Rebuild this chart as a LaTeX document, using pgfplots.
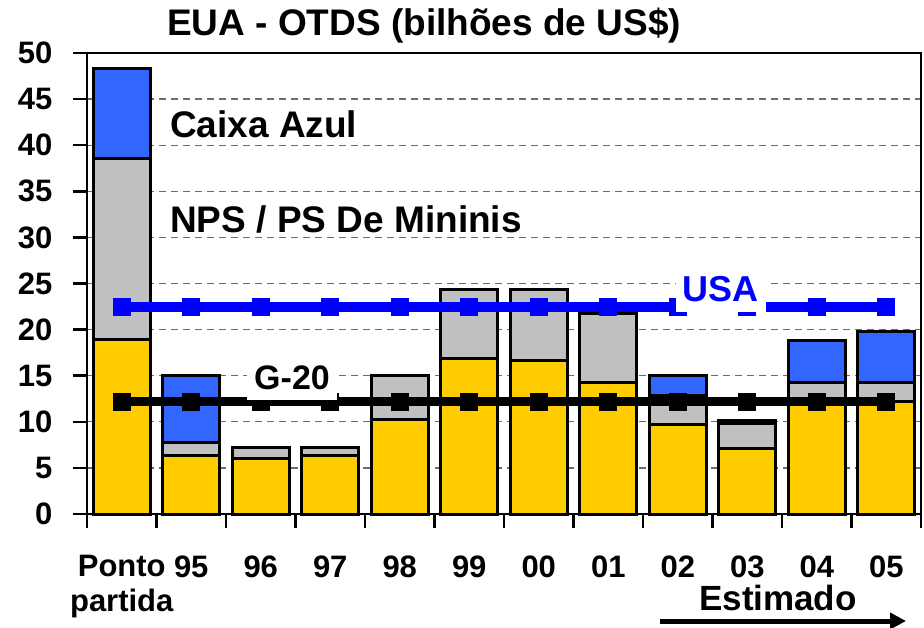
\documentclass[border=0pt]{standalone}
\usepackage{pgfplots}
\pgfplotsset{compat=1.18}
\usepackage{fontspec}
\setmainfont{Liberation Sans}
\usetikzlibrary{arrows.meta}
\definecolor{cYel}{HTML}{FFCC00}
\definecolor{cGray}{HTML}{C0C0C0}
\definecolor{cBlue}{HTML}{3366FF}
\definecolor{cUSA}{HTML}{0000FF}
\newcommand{\fs}[1]{\bfseries\fontsize{#1}{#1}\selectfont}
\newcommand{\fsx}{\bfseries\fontsize{31}{35}\selectfont}
\pgfplotsset{same box/.style={at={(87pt,113pt)}, anchor=south west,
  scale only axis, width=834pt, height=461pt,
  xmin=-0.5, xmax=11.5, ymin=0, ymax=50}}
\begin{document}
\begin{tikzpicture}[x=1pt,y=1pt]
\useasboundingbox (0,0) rectangle (924,627);
\begin{axis}[
  same box,
  ybar stacked, bar width=0.82,
  xtick={-0.5,0.5,...,11.5},
  x tick label as interval,
  xticklabels={{Ponto\\partida},95,96,97,98,99,00,01,02,03,04,05},
  ytick={0,5,...,50},
  ymajorgrids,
  grid style={gray!85!black, line width=1.3pt, dash pattern=on 7pt off 5pt},
  tick align=outside, major tick length=14pt,
  tick style={black, line width=2.5pt},
  axis line style={line width=2.5pt},
  xtick pos=bottom, ytick pos=left,
  yticklabel style={font=\fsx, xshift=-17pt},
  xticklabel style={align=center, font=\fsx, yshift=-24pt},
  /pgf/number format/assume math mode=true,
  clip=false,
]
\addplot[fill=cYel, draw=black, line width=3pt] coordinates {(0,18.9) (1,6.3) (2,6.0) (3,6.3) (4,10.3) (5,16.9) (6,16.6) (7,14.3) (8,9.7) (9,7.1) (10,12.2) (11,12.2)};
\addplot[fill=cGray, draw=black, line width=3pt] coordinates {(0,19.7) (1,1.5) (2,1.2) (3,0.9) (4,4.7) (5,7.4) (6,7.7) (7,7.4) (8,3.2) (9,2.7) (10,2.1) (11,2.1)};
\addplot[fill=cBlue, draw=black, line width=3pt] coordinates {(0,9.7) (1,7.2) (2,0) (3,0) (4,0) (5,0) (6,0) (7,0) (8,2.1) (9,0.3) (10,4.5) (11,5.5)};
\end{axis}
\begin{axis}[same box, axis lines=none, clip=false]
\addplot[color=cUSA, line width=10pt, mark=square*, mark size=8.5pt, mark options={line width=0pt}] coordinates {(0,22.5) (1,22.5) (2,22.5) (3,22.5) (4,22.5) (5,22.5) (6,22.5) (7,22.5) (8,22.5) (9,22.5) (10,22.5) (11,22.5)};
\addplot[color=black, line width=9.5pt, mark=square*, mark size=8.5pt, mark options={line width=0pt}] coordinates {(0,12.2) (1,12.2) (2,12.2) (3,12.2) (4,12.2) (5,12.2) (6,12.2) (7,12.2) (8,12.2) (9,12.2) (10,12.2) (11,12.2)};
\end{axis}
\begin{axis}[same box, axis lines=none, clip=false]
\node[anchor=base, fill=white, text=cUSA, font=\fs{36}, text depth=0pt, inner xsep=7pt, inner ysep=11pt] at (axis cs:8.62,23.1) {USA};
\node[anchor=base, fill=white, text=black, font=\fs{34}, text depth=0pt, inner xsep=7pt, inner ysep=11pt] at (axis cs:2.45,13.52) {G-20};
\node[anchor=base west, font=\fs{37}, inner sep=0pt] at (axis cs:0.694,40.86) {Caixa Azul};
\node[anchor=base west, font=\fs{37}, inner sep=0pt] at (axis cs:0.694,30.5) {NPS / PS De Mininis};
\end{axis}
\node[anchor=base west, font=\fs{37}, inner sep=0pt] at (167,591) {EUA - OTDS (bilhões de US\$)};
\node[anchor=base west, font=\fs{35}, inner sep=0pt] at (699,17) {Estimado};
\draw[line width=5pt, -{Triangle[length=16pt,width=16pt]}] (660,6) -- (906,6);
\end{tikzpicture}
\end{document}
